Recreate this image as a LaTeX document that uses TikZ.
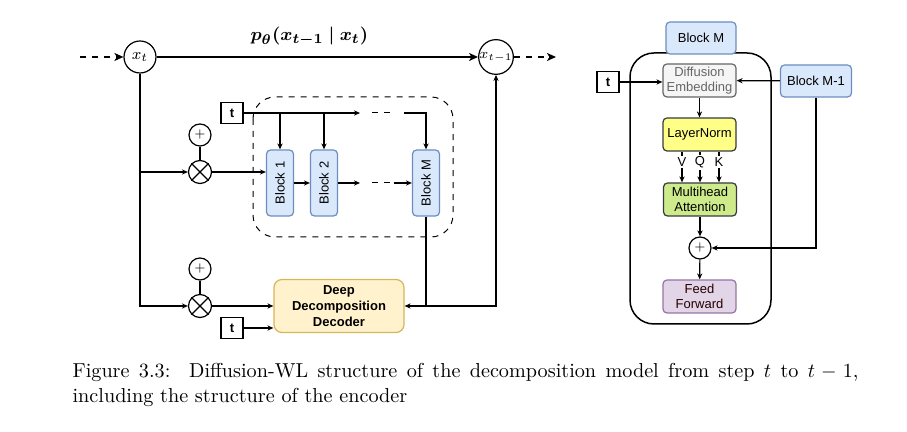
\documentclass[tikz,border=0pt]{standalone}
\usepackage{fontspec}
\usepackage{bm}
\setsansfont{Liberation Sans}
\usetikzlibrary{arrows.meta,positioning}
\definecolor{blkfill}{HTML}{DAE8FC}
\definecolor{blkdraw}{HTML}{6C8EBF}
\definecolor{decfill}{HTML}{FFF2CC}
\definecolor{decdraw}{HTML}{D6B656}
\definecolor{embfill}{HTML}{F5F5F5}
\definecolor{embdraw}{HTML}{666666}
\definecolor{lnfill}{HTML}{FFFF88}
\definecolor{lndraw}{HTML}{36393D}
\definecolor{mhfill}{HTML}{CDEB8B}
\definecolor{fffill}{HTML}{E1D5E7}
\definecolor{ffdraw}{HTML}{9673A6}
\begin{document}
\begin{tikzpicture}[x=0.5pt, y=-0.5pt, line width=0.6pt,
    every node/.style={font=\sffamily\fontsize{6.5}{7.8}\selectfont, inner sep=0pt},
    arr/.style={-{Stealth[length=3pt,width=2.6pt]}},
    bigarr/.style={-{Stealth[length=4.5pt,width=4pt,inset=1.2pt]}, line width=0.75pt},
    blk/.style={draw=blkdraw, fill=blkfill, rounded corners=2pt, minimum width=13.5pt, minimum height=33pt},
    box/.style={rounded corners=2pt, minimum width=36.5pt, minimum height=16.5pt, align=center},
    tbox/.style={draw, minimum width=11pt, minimum height=10.5pt, font=\sffamily\bfseries\fontsize{6.5}{7.8}\selectfont},
    mul/.style={circle, draw, minimum size=11.5pt},
    plus/.style={circle, draw, minimum size=11pt, font=\fontsize{6}{6}\selectfont},
  ]
  \useasboundingbox (0,0) rectangle (907,432);
  % left part
  \coordinate (in) at (80,57);
  \coordinate (out) at (556,57);
  \node[circle, draw, minimum size=16pt, font=\footnotesize] (xt) at (140,57) {$x_t$};
  \node[circle, draw, minimum size=16pt, font=\fontsize{7.5}{8}\selectfont] (xtm) at (496,57) {$x_{t-1}$};
  \draw[bigarr, dashed] (in) -- (xt);
  \draw[bigarr] (xt) -- node[above=5pt, xshift=-4pt, font=\fontsize{9.5}{11}\selectfont] {$\bm{p_\theta(x_{t-1}\mid x_t)}$} (xtm);
  \draw[bigarr, dashed] (xtm) -- (out);
  \draw[dashed, line width=0.5pt, rounded corners=11pt] (253,97) rectangle (453,237);
  \node[tbox] (t1) at (232,113) {t};
  \node[blk] (b1) at (280,183) {\rotatebox{90}{Block 1}};
  \node[blk] (b2) at (324,183) {\rotatebox{90}{Block 2}};
  \node[blk] (bM) at (426,183) {\rotatebox{90}{Block M}};
  \node[plus] (p1) at (200,135) {+};
  \node[mul] (m1) at (200,172) {};
  \node[plus] (p2) at (200,269) {+};
  \node[mul] (m2) at (200,306) {};
  \draw (m1.north west) -- (m1.south east) (m1.north east) -- (m1.south west);
  \draw (m2.north west) -- (m2.south east) (m2.north east) -- (m2.south west);
  \draw (p1) -- (m1);
  \draw (p2) -- (m2);
  \node[draw=decdraw, fill=decfill, rounded corners=4pt, minimum width=65pt, minimum height=26.5pt, align=center,
        font=\sffamily\bfseries\fontsize{6.5}{7.8}\selectfont] (dec) at (339,306) {Deep\\Decomposition\\Decoder};
  \node[tbox] (t2) at (232,328) {t};
  \coordinate (c1) at (360,113);
  \coordinate (c2) at (372,113);
  \coordinate (c3) at (394,113);
  \coordinate (c4) at (404,113);
  \coordinate (c5) at (360,183);
  \coordinate (c6) at (372,183);
  \coordinate (c7) at (394,183);
  \draw[arr] (xt.south) |- (m2);
  \draw[arr] (xt.south |- m1) -- (m1);
  \draw[arr] (m1) -- (m1 -| b1.west);
  \draw[arr] (t1) -- (c1);
  \draw[dashed, line width=0.5pt] (c2) -- (c3);
  \draw[arr] (c4) -| (bM.north);
  \draw[arr] (b1 |- t1) -- (b1);
  \draw[arr] (b2 |- t1) -- (b2);
  \draw[arr] (b1) -- (b2);
  \draw[arr] (b2) -- (c5);
  \draw[dashed, line width=0.5pt] (c6) -- (c7);
  \draw[arr] (c7) -- (bM);
  \draw[arr] (bM.south) |- (dec.east);
  \draw[arr] (m2) -- (dec);
  \draw[arr] (t2) -- (t2 -| dec.west);
  \draw[arr, line width=0.75pt] (bM.south |- dec.east) -| (xtm.south);
  % right part
  \draw[line width=0.75pt, rounded corners=12pt] (630,53) rectangle (771,324);
  \node[box, draw=blkdraw, fill=blkfill, minimum width=35pt, minimum height=16pt] (blkM) at (701,38) {Block M};
  \node[box, draw=embdraw, fill=embfill, text=embdraw] (emb) at (699.5,80.5) {Diffusion\\Embedding};
  \node[tbox] (t3) at (608,82) {t};
  \node[box, draw=blkdraw, fill=blkfill, minimum width=35.5pt, minimum height=16pt] (bm1) at (816,81) {Block M-1};
  \node[box, draw=lndraw, fill=lnfill] (ln) at (699.5,134.5) {LayerNorm};
  \node[box, draw=lndraw, fill=mhfill] (mh) at (700,199.5) {Multihead\\Attention};
  \node[plus] (pl) at (700,248) {+};
  \node[box, draw=ffdraw, fill=fffill, text=black!85!red] (ff) at (699.5,296.5) {Feed\\Forward};
  \draw[arr] (t3) -- (t3 -| emb.west);
  \draw[arr] (bm1) -- (emb);
  \draw[arr] (emb) -- (ln);
  \foreach \dx/\lab in {-8.75pt/V, 0.25pt/Q, 9.75pt/K}
    \draw[arr] ([xshift=\dx]ln.south) -- node[pos=0.35, fill=white, inner sep=0.8pt] {\lab} ([xshift=\dx]ln.south |- mh.north);
  \draw[arr] (mh) -- (pl);
  \draw[arr] (pl) -- (ff);
  \draw[arr] (bm1.south) |- (pl.east);
  % caption
  \node[anchor=north west, text width=393pt, align=justify, font=\fontsize{10.1}{12.4}\selectfont] (cap) at (72,363)
    {Figure 3.3:\ \ Diffusion-WL structure of the decomposition model from step $t$ to $t-1$,\linebreak including the structure of the encoder};
\end{tikzpicture}
\end{document}
